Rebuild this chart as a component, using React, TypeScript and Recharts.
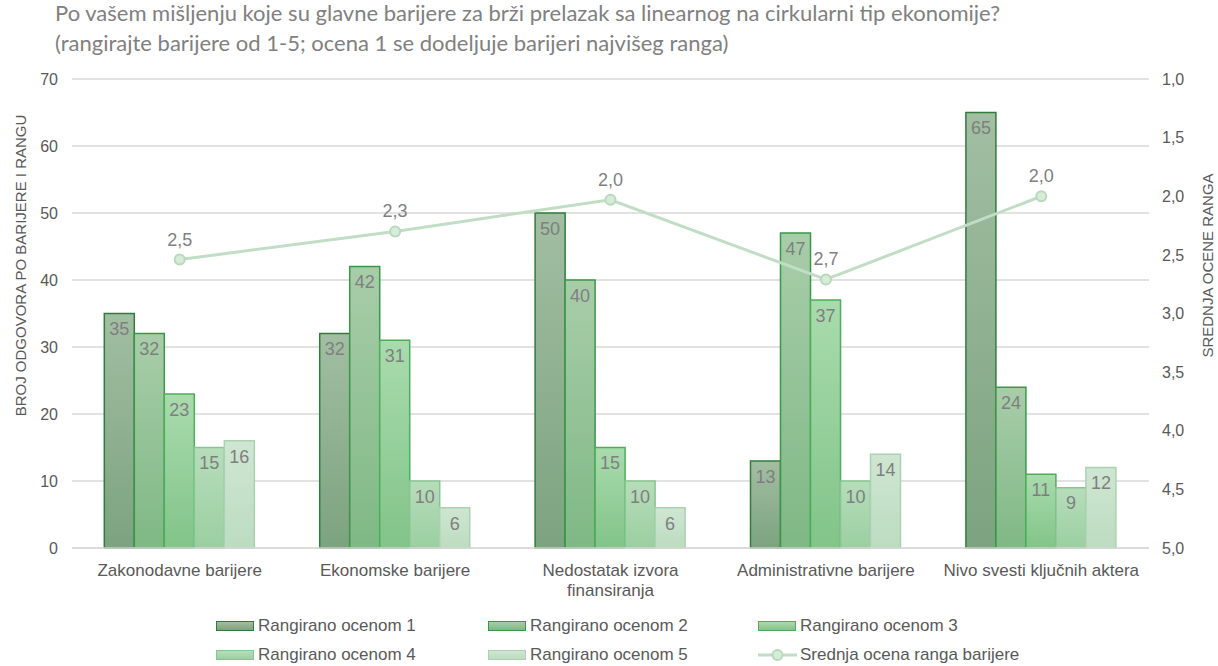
import { ComposedChart, Bar, Line, XAxis, YAxis, CartesianGrid, LabelList } from 'recharts';

const categories = [
  'Zakonodavne barijere',
  'Ekonomske barijere',
  'Nedostatak izvora finansiranja',
  'Administrativne barijere',
  'Nivo svesti ključnih aktera',
];
const rank1 = [35, 32, 50, 13, 65];
const rank2 = [32, 42, 40, 47, 24];
const rank3 = [23, 31, 15, 37, 11];
const rank4 = [15, 10, 10, 10, 9];
const rank5 = [16, 6, 6, 14, 12];
const avgRank = [2.54, 2.3, 2.03, 2.71, 2.0];

const leftTicks = [0, 10, 20, 30, 40, 50, 60, 70];
const rightTicks = [1, 1.5, 2, 2.5, 3, 3.5, 4, 4.5, 5];

const seriesNames = [
  'Rangirano ocenom 1',
  'Rangirano ocenom 2',
  'Rangirano ocenom 3',
  'Rangirano ocenom 4',
  'Rangirano ocenom 5',
];
const lineName = 'Srednja ocena ranga barijere';

const BAR_STYLES = [
  { top: '#a2bea3', bottom: '#7ca37f', stroke: '#2f7d3b' },
  { top: '#a8cda9', bottom: '#7fb885', stroke: '#3a9748' },
  { top: '#a9dbad', bottom: '#82c489', stroke: '#4cae5a' },
  { top: '#b7ddbb', bottom: '#9bcfa1', stroke: '#86c690' },
  { top: '#cfe6d2', bottom: '#bcdcc0', stroke: '#a9d3b0' },
];
const LINE_COLOR = '#c2ddc5';
const TEXT = '#595959';
const LABEL = '#7f7f7f';
const FONT = '"Liberation Sans", Arial, sans-serif';

const data = categories.map((name, i) => ({
  name,
  r1: rank1[i],
  r2: rank2[i],
  r3: rank3[i],
  r4: rank4[i],
  r5: rank5[i],
  avg: avgRank[i],
}));

const fmt = (v: number) => v.toFixed(1).replace('.', ',');

// long names go on two lines, the last word below
function CategoryTick(props: any) {
  const { x, y, payload } = props;
  const words = String(payload.value).split(' ');
  const lines = payload.value.length > 28
    ? [words.slice(0, -1).join(' '), words[words.length - 1]]
    : [payload.value];
  return (
    <text x={x} y={y + 20} textAnchor="middle" fill={TEXT} fontSize={17} fontFamily={FONT}>
      {lines.map((l: string, i: number) => (
        <tspan key={i} x={x} dy={i === 0 ? 0 : 20}>{l}</tspan>
      ))}
    </text>
  );
}

// axis titles sit a bit above the middle of the plot, like in the original
function AxisTitle({ viewBox, text, dx }: any) {
  const cx = viewBox.x + dx;
  const cy = viewBox.y + viewBox.height / 2 - 48;
  return (
    <text
      x={cx}
      y={cy}
      transform={`rotate(-90, ${cx}, ${cy})`}
      textAnchor="middle"
      dominantBaseline="central"
      fill={TEXT}
      fontSize={15}
      fontFamily={FONT}
    >
      {text}
    </text>
  );
}

const legendItems = [
  { label: seriesNames[0], kind: 0, x: 216, y: 626 },
  { label: seriesNames[1], kind: 1, x: 488, y: 626 },
  { label: seriesNames[2], kind: 2, x: 758, y: 626 },
  { label: seriesNames[3], kind: 3, x: 216, y: 655 },
  { label: seriesNames[4], kind: 4, x: 488, y: 655 },
  { label: lineName, kind: -1, x: 758, y: 655 },
];

export default function App() {
  return (
    <div
      style={{
        position: 'absolute',
        left: 0,
        top: 0,
        width: 1218,
        height: 666,
        background: '#fff',
        overflow: 'hidden',
      }}
    >
      <div
        style={{
          position: 'absolute',
          left: 55,
          top: -2,
          color: '#808080',
          fontFamily: 'Lato, sans-serif',
          fontSize: 22,
          lineHeight: '30px',
          whiteSpace: 'nowrap',
        }}
      >
        Po vašem mišljenju koje su glavne barijere za brži prelazak sa linearnog na cirkularni tip ekonomije?
        <br />
        (rangirajte barijere od 1-5; ocena 1 se dodeljuje barijeri najvišeg ranga)
      </div>

      <ComposedChart
        width={1218}
        height={666}
        data={data}
        margin={{ top: 79, right: 0, left: 0, bottom: 68 }}
        barCategoryGap="15%"
        barGap={0}
        style={{ position: 'absolute', left: 0, top: 0 }}
      >
        <defs>
          {BAR_STYLES.map((s, i) => (
            <linearGradient key={i} id={`grad${i}`} x1="0" y1="0" x2="0" y2="1">
              <stop offset="0%" stopColor={s.top} />
              <stop offset="100%" stopColor={s.bottom} />
            </linearGradient>
          ))}
        </defs>
        <CartesianGrid yAxisId="left" vertical={false} stroke="#d9d9d9" strokeWidth={1.5} />
        <XAxis
          dataKey="name"
          height={50}
          tickLine={false}
          axisLine={{ stroke: '#d9d9d9', strokeWidth: 1.5 }}
          tick={<CategoryTick />}
          interval={0}
        />
        <YAxis
          yAxisId="left"
          width={72}
          domain={[0, 70]}
          ticks={leftTicks}
          axisLine={false}
          tickLine={false}
          tickSize={0}
          tickMargin={14}
          tick={{ fill: TEXT, fontSize: 16, fontFamily: FONT }}
          label={<AxisTitle text="BROJ ODGOVORA PO BARIJERE I RANGU" dx={20} />}
        />
        <YAxis
          yAxisId="right"
          orientation="right"
          width={69}
          domain={[1, 5]}
          reversed
          ticks={rightTicks}
          axisLine={false}
          tickLine={false}
          tickSize={0}
          tickMargin={13}
          tickFormatter={fmt}
          tick={{ fill: TEXT, fontSize: 16, fontFamily: FONT }}
          label={<AxisTitle text="SREDNJA OCENE RANGA" dx={58} />}
        />
        {(['r1', 'r2', 'r3', 'r4', 'r5'] as const).map((key, i) => (
          <Bar
            key={key}
            yAxisId="left"
            dataKey={key}
            name={seriesNames[i]}
            fill={`url(#grad${i})`}
            stroke={BAR_STYLES[i].stroke}
            strokeWidth={1.5}
            isAnimationActive={false}
          >
            <LabelList
              dataKey={key}
              position="insideTop"
              offset={9}
              fill={LABEL}
              fontSize={18}
              fontFamily={FONT}
            />
          </Bar>
        ))}
        <Line
          yAxisId="right"
          dataKey="avg"
          name={lineName}
          stroke={LINE_COLOR}
          strokeWidth={3}
          dot={{ r: 5, fill: '#d6ebd8', stroke: '#b9d8bd', strokeWidth: 2 }}
          isAnimationActive={false}
        >
          <LabelList
            dataKey="avg"
            position="top"
            offset={14}
            formatter={(v: any) => fmt(Number(v))}
            fill={LABEL}
            fontSize={18}
            fontFamily={FONT}
          />
        </Line>
      </ComposedChart>

      {legendItems.map((item) => (
        <div
          key={item.label}
          style={{
            position: 'absolute',
            left: item.x,
            top: item.y - 10,
            height: 20,
            display: 'flex',
            alignItems: 'center',
            fontFamily: FONT,
            fontSize: 17,
            color: TEXT,
            whiteSpace: 'nowrap',
          }}
        >
          {item.kind >= 0 ? (
            <div
              style={{
                width: 36,
                height: 8,
                marginRight: 4,
                border: `1.5px solid ${BAR_STYLES[item.kind].stroke}`,
                background: `linear-gradient(${BAR_STYLES[item.kind].top}, ${BAR_STYLES[item.kind].bottom})`,
              }}
            />
          ) : (
            <svg width={39} height={14} style={{ marginRight: 3 }}>
              <line x1={0} y1={7} x2={39} y2={7} stroke={LINE_COLOR} strokeWidth={3} />
              <circle cx={19.5} cy={7} r={5} fill="#d6ebd8" stroke="#b9d8bd" strokeWidth={2} />
            </svg>
          )}
          {item.label}
        </div>
      ))}
    </div>
  );
}
